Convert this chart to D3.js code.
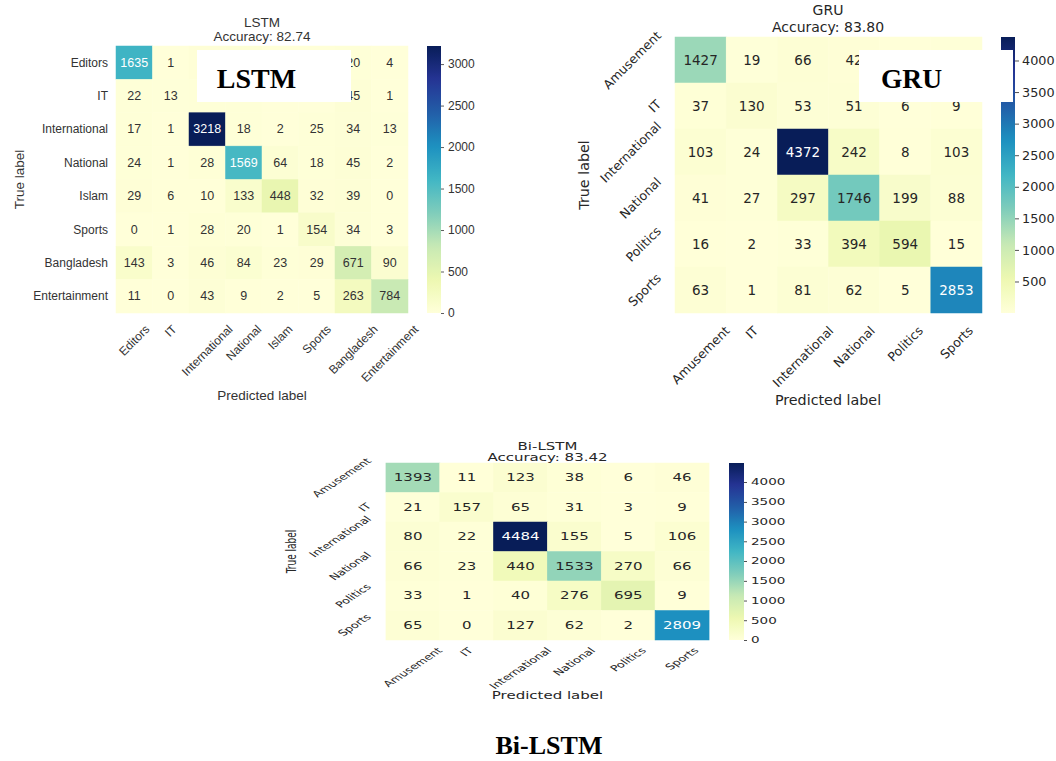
<!DOCTYPE html>
<html><head><meta charset="utf-8">
<script src="https://cdn.jsdelivr.net/npm/d3@7"></script>
<style>html,body{margin:0;padding:0;background:#fff;}svg{display:block;}</style>
</head><body>
<svg id="chart" width="1056" height="761"></svg>
<script>
// ---------------- DATA ----------------
const LSTM_categories = ["Editors","IT","International","National","Islam","Sports","Bangladesh","Entertainment"];
const LSTM_values = [
  [1635, 1, 30, 45, 6, 10, 20, 4],
  [22, 13, 25, 20, 2, 4, 45, 1],
  [17, 1, 3218, 18, 2, 25, 34, 13],
  [24, 1, 28, 1569, 64, 18, 45, 2],
  [29, 6, 10, 133, 448, 32, 39, 0],
  [0, 1, 28, 20, 1, 154, 34, 3],
  [143, 3, 46, 84, 23, 29, 671, 90],
  [11, 0, 43, 9, 2, 5, 263, 784]
];
const LSTM_cbar_ticks = [0, 500, 1000, 1500, 2000, 2500, 3000];

const GRU_categories = ["Amusement","IT","International","National","Politics","Sports"];
const GRU_values = [
  [1427, 19, 66, 42, 9, 30],
  [37, 130, 53, 51, 6, 9],
  [103, 24, 4372, 242, 8, 103],
  [41, 27, 297, 1746, 199, 88],
  [16, 2, 33, 394, 594, 15],
  [63, 1, 81, 62, 5, 2853]
];
const GRU_cbar_ticks = [500, 1000, 1500, 2000, 2500, 3000, 3500, 4000];

const BILSTM_categories = ["Amusement","IT","International","National","Politics","Sports"];
const BILSTM_values = [
  [1393, 11, 123, 38, 6, 46],
  [21, 157, 65, 31, 3, 9],
  [80, 22, 4484, 155, 5, 106],
  [66, 23, 440, 1533, 270, 66],
  [33, 1, 40, 276, 695, 9],
  [65, 0, 127, 62, 2, 2809]
];
const BILSTM_cbar_ticks = [0, 500, 1000, 1500, 2000, 2500, 3000, 3500, 4000];

const titles = {
  lstm: ["LSTM", "Accuracy: 82.74"],
  gru: ["GRU", "Accuracy: 83.80"],
  bilstm: ["Bi-LSTM", "Accuracy: 83.42"]
};

// white label boxes pasted over the figure (screen coords)
const boxes = [
  {label: "LSTM", x: 197, y: 50, w: 154, h: 52, tx: 256.5, size: 28},
  {label: "GRU", x: 859, y: 50, w: 154, h: 52, tx: 911.5, size: 27.5}
];

// ---------------- HELPERS ----------------
const svg = d3.select("#chart");
const defs = svg.append("defs");

function relLum(c) {
  const rgb = d3.rgb(c);
  const f = v => { v /= 255; return v <= 0.03928 ? v / 12.92 : Math.pow((v + 0.055) / 1.055, 2.4); };
  return 0.2126 * f(rgb.r) + 0.7152 * f(rgb.g) + 0.0722 * f(rgb.b);
}
function covered(px, py) {
  return boxes.some(b => px > b.x && px < b.x + b.w && py > b.y && py < b.y + b.h);
}

function drawHeatmap(g, cfg) {
  const cats = cfg.categories, vals = cfg.values;
  const flat = vals.flat();
  const vmin = d3.min(flat), vmax = d3.max(flat);
  const scheme = d3.schemeYlGnBu[9];
  const color = d3.scaleLinear()
    .domain(scheme.map((_, i) => vmin + (vmax - vmin) * i / 8))
    .range(scheme).interpolate(d3.interpolateRgb).clamp(true);
  const x = d3.scaleBand().domain(cats).range([cfg.left, cfg.right]);
  const y = d3.scaleBand().domain(cats).range([cfg.top, cfg.bottom]);
  const txtColor = cfg.textColor;
  const sxl = cfg.sx || 1;

  const cells = [];
  vals.forEach((row, i) => row.forEach((v, j) => cells.push({r: cats[i], c: cats[j], v})));
  g.append("g").selectAll("rect").data(cells).join("rect")
    .attr("x", d => x(d.c)).attr("y", d => y(d.r))
    .attr("width", x.bandwidth()).attr("height", y.bandwidth())
    .attr("fill", d => color(d.v)).attr("stroke", d => color(d.v)).attr("stroke-width", 0.5);
  // annotation texts (those fully hidden under a pasted label box are not shown)
  const visible = cells.filter(d => !covered((x(d.c) + x.bandwidth() / 2) * sxl, y(d.r) + y.bandwidth() / 2));
  g.append("g").selectAll("text").data(visible).join("text")
    .attr("x", d => x(d.c) + x.bandwidth() / 2)
    .attr("y", d => y(d.r) + y.bandwidth() / 2)
    .attr("text-anchor", "middle").attr("dominant-baseline", "central")
    .attr("font-family", cfg.font).attr("font-size", cfg.cellFont)
    .attr("fill", d => relLum(color(d.v)) > 0.408 ? txtColor : "#ffffff")
    .text(d => d.v);

  const xl = g.append("g");
  cats.forEach(c => {
    const t = xl.append("text").attr("text-anchor", "middle").attr("dominant-baseline", "central")
      .attr("font-family", cfg.font).attr("font-size", cfg.tickFont).attr("fill", txtColor).text(c);
    const L = t.node().getComputedTextLength();
    const half = (L + cfg.tickFont * 0.75) * 0.7071 / 2;
    t.attr("transform", `translate(${x(c) + x.bandwidth() / 2},${cfg.bottom + cfg.xPad + half}) rotate(-45)`);
  });
  const yl = g.append("g");
  cats.forEach(c => {
    const t = yl.append("text").attr("dominant-baseline", "central")
      .attr("font-family", cfg.font).attr("font-size", cfg.tickFont).attr("fill", txtColor).text(c);
    const cy = y(c) + y.bandwidth() / 2;
    if (cfg.yRot) {
      const L = t.node().getComputedTextLength();
      const half = (L + cfg.tickFont * 0.75) * 0.7071 / 2;
      t.attr("text-anchor", "middle")
        .attr("transform", `translate(${cfg.left - cfg.yPad - half},${cy}) rotate(-45)`);
    } else {
      t.attr("text-anchor", "end").attr("x", cfg.left - cfg.yPad).attr("y", cy);
    }
  });

  cfg.title.forEach((line, i) => {
    g.append("text").attr("x", cfg.titleX).attr("y", cfg.titleY[i])
      .attr("text-anchor", "middle").attr("font-family", cfg.font)
      .attr("font-size", cfg.titleFont).attr("fill", txtColor).text(line);
  });
  g.append("text").attr("x", cfg.titleX).attr("y", cfg.xLabelY)
    .attr("text-anchor", "middle").attr("font-family", cfg.font)
    .attr("font-size", cfg.labelFont).attr("fill", txtColor).text("Predicted label");
  g.append("text").attr("transform", `translate(${cfg.yLabelX},${(cfg.top + cfg.bottom) / 2}) rotate(-90)`)
    .attr("text-anchor", "middle").attr("dominant-baseline", "central").attr("font-family", cfg.font)
    .attr("font-size", cfg.yLabelFont || cfg.labelFont).attr("fill", txtColor).text("True label");

  const cy = d3.scaleLinear().domain([vmin, vmax]).range([cfg.bottom, cfg.top]);
  const gid = "grad-" + cfg.id;
  const grad = defs.append("linearGradient").attr("id", gid)
    .attr("x1", 0).attr("y1", 1).attr("x2", 0).attr("y2", 0);
  d3.range(0, 1.0001, 0.02).forEach(t => {
    grad.append("stop").attr("offset", t).attr("stop-color", color(vmin + t * (vmax - vmin)));
  });
  g.append("rect").attr("x", cfg.cbar[0]).attr("y", cfg.top)
    .attr("width", cfg.cbar[1] - cfg.cbar[0]).attr("height", cfg.bottom - cfg.top)
    .attr("fill", `url(#${gid})`);
  const axis = d3.axisRight(cy).tickValues(cfg.cbarTicks).tickSize(cfg.cbarTickLen)
    .tickPadding(cfg.cbarPad).tickFormat(d3.format("d"));
  const ax = g.append("g").attr("transform", `translate(${cfg.cbar[1]},0)`).call(axis);
  ax.select(".domain").remove();
  ax.selectAll(".tick line").attr("stroke", txtColor).attr("stroke-width", 0.8);
  ax.selectAll(".tick text").attr("font-family", cfg.font).attr("font-size", cfg.cbarFont).attr("fill", txtColor);
}

// ---------------- LSTM ----------------
drawHeatmap(svg.append("g"), {
  id: "lstm", categories: LSTM_categories, values: LSTM_values, cbarTicks: LSTM_cbar_ticks,
  font: "Liberation Sans", textColor: "#333333",
  left: 116, right: 408, top: 46, bottom: 313, cbar: [427, 441],
  cellFont: 12.5, tickFont: 12, titleFont: 13.5, labelFont: 13.5, cbarFont: 12,
  title: titles.lstm, titleX: 262, titleY: [27, 41],
  xLabelY: 400, yLabelX: 19, xPad: 11, yPad: 8, yRot: false,
  cbarTickLen: 3, cbarPad: 4
});

// ---------------- GRU ----------------
drawHeatmap(svg.append("g"), {
  id: "gru", categories: GRU_categories, values: GRU_values, cbarTicks: GRU_cbar_ticks,
  font: "DejaVu Sans", textColor: "#262626",
  left: 675, right: 982, top: 37, bottom: 313, cbar: [1001, 1015],
  cellFont: 13.5, tickFont: 12.5, titleFont: 14, labelFont: 14.3, cbarFont: 12.8,
  title: titles.gru, titleX: 828, titleY: [15, 32],
  xLabelY: 405, yLabelX: 584, xPad: 12, yPad: 13, yRot: true,
  cbarTickLen: 4, cbarPad: 3
});

// ---------------- Bi-LSTM (horizontally stretched figure) ----------------
const sx = 1.5;
drawHeatmap(svg.append("g").attr("transform", `scale(${sx},1)`), {
  id: "bilstm", sx: sx, categories: BILSTM_categories, values: BILSTM_values, cbarTicks: BILSTM_cbar_ticks,
  font: "DejaVu Sans", textColor: "#262626",
  left: 386 / sx, right: 709 / sx, top: 463, bottom: 640, cbar: [729 / sx, 744 / sx],
  cellFont: 10, tickFont: 8.5, titleFont: 10, labelFont: 10, yLabelFont: 9, cbarFont: 9,
  title: titles.bilstm, titleX: 547.5 / sx, titleY: [450, 461],
  xLabelY: 699, yLabelX: 291 / sx, xPad: 7, yPad: 9, yRot: true,
  cbarTickLen: 3 / sx, cbarPad: 4 / sx
});

// ---------------- Overlay annotations ----------------
boxes.forEach(b => {
  svg.append("rect").attr("x", b.x).attr("y", b.y).attr("width", b.w).attr("height", b.h).attr("fill", "#ffffff");
  svg.append("text").attr("x", b.tx).attr("y", 88).attr("text-anchor", "middle")
    .attr("font-family", "Liberation Serif").attr("font-weight", "bold").attr("font-size", b.size)
    .attr("fill", "#000").text(b.label);
});
svg.append("text").attr("x", 549).attr("y", 754).attr("text-anchor", "middle")
  .attr("font-family", "Liberation Serif").attr("font-weight", "bold").attr("font-size", 26)
  .attr("fill", "#000").text("Bi-LSTM");
</script>
</body></html>
